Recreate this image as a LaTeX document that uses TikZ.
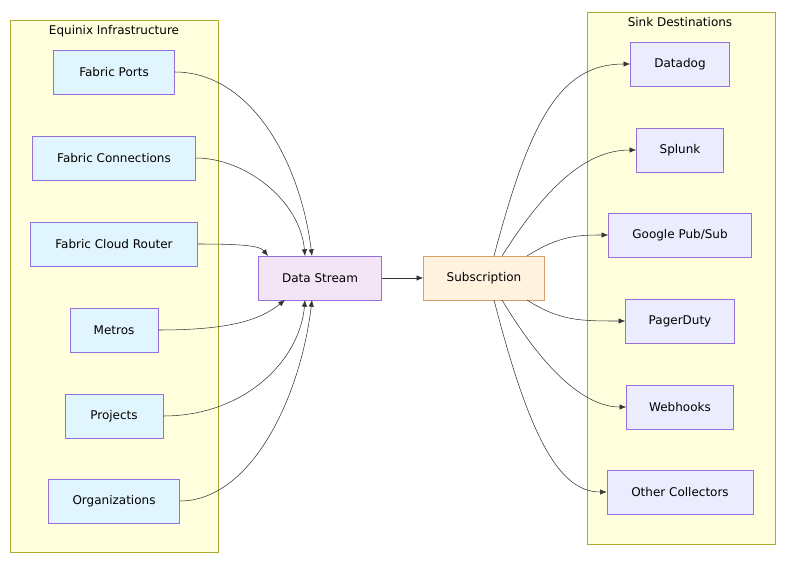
\documentclass[tikz,border=0pt]{standalone}
\usepackage{fontspec}
\setmainfont{DejaVu Sans}
\usetikzlibrary{arrows.meta}
\definecolor{srcfill}{HTML}{E1F5FE}
\definecolor{boxline}{HTML}{9370DB}
\definecolor{sinkfill}{HTML}{ECECFF}
\definecolor{dsfill}{HTML}{F3E5F5}
\definecolor{subfill}{HTML}{FFF3E0}
\definecolor{subline}{HTML}{D9A066}
\definecolor{grpfill}{HTML}{FFFFDE}
\definecolor{grpline}{HTML}{AAAA33}
\tikzset{
  box/.style={draw=boxline, minimum height=44*0.75pt, inner sep=0pt, font=\fontsize{9}{11}\selectfont},
  src/.style={box, fill=srcfill},
  sink/.style={box, fill=sinkfill},
  grp/.style={draw=grpline, fill=grpfill},
  flow/.style={draw=black!80, thin, -{Latex[length=5pt,width=4pt]}},
}
\begin{document}
\begin{tikzpicture}[x=0.75pt,y=-0.75pt]
    \useasboundingbox (0,0) rectangle (796,563);
    % groups
    \draw[grp] (10,20) rectangle (218,552);
    \node[font=\fontsize{9}{11}\selectfont] (srcttl) at (114,31) {Equinix Infrastructure};
    \draw[grp] (587,12) rectangle (775,544);
    \node[font=\fontsize{9}{11}\selectfont] (sinkttl) at (680,22) {Sink Destinations};
    % sources
    \node[src, minimum width=121*0.75pt] (ports) at (114,72) {Fabric Ports};
    \node[src, minimum width=163*0.75pt] (conns) at (114,158) {Fabric Connections};
    \node[src, minimum width=167*0.75pt] (fcr) at (114,244) {Fabric Cloud Router};
    \node[src, minimum width=88*0.75pt] (metros) at (114,330) {Metros};
    \node[src, minimum width=98*0.75pt] (projects) at (114,416) {Projects};
    \node[src, minimum width=131*0.75pt] (orgs) at (114,501) {Organizations};
    % middle
    \node[box, fill=dsfill, minimum width=123*0.75pt] (stream) at (320,278) {Data Stream};
    \node[box, draw=subline, fill=subfill, minimum width=121*0.75pt] (sub) at (484,278) {Subscription};
    % sinks
    \node[sink, minimum width=99*0.75pt] (datadog) at (680,64) {Datadog};
    \node[sink, minimum width=87*0.75pt] (splunk) at (680,150) {Splunk};
    \node[sink, minimum width=143*0.75pt] (pubsub) at (680,235) {Google Pub/Sub};
    \node[sink, minimum width=109*0.75pt] (pager) at (680,321) {PagerDuty};
    \node[sink, minimum width=107*0.75pt] (hooks) at (680,407) {Webhooks};
    \node[sink, minimum width=146*0.75pt] (other) at (680,492) {Other Collectors};
    % edges in
    \coordinate (n1) at (312,256); \coordinate (n2) at (305,256); \coordinate (n3) at (268,256);
    \coordinate (s1) at (285,300); \coordinate (s2) at (305,300); \coordinate (s3) at (312,300);
    \draw[flow] (ports.east) .. controls (250,72) and (300,160) .. (n1);
    \draw[flow] (conns.east) .. controls (245,158) and (300,200) .. (n2);
    \draw[flow] (fcr.east) .. controls (245,244) and (260,246) .. (n3);
    \draw[flow] (metros.east) .. controls (230,330) and (260,320) .. (s1);
    \draw[flow] (projects.east) .. controls (245,416) and (300,360) .. (s2);
    \draw[flow] (orgs.east) .. controls (250,501) and (300,400) .. (s3);
    \draw[flow] (stream) -- (sub);
    % edges out
    \draw[flow] (494,256) .. controls (530,120) and (560,64) .. (datadog.west);
    \draw[flow] (502,256) .. controls (550,180) and (590,150) .. (splunk.west);
    \draw[flow] (527,256) .. controls (560,235) and (580,235) .. (pubsub.west);
    \draw[flow] (527,300) .. controls (560,321) and (580,321) .. (pager.west);
    \draw[flow] (502,300) .. controls (550,380) and (590,407) .. (hooks.west);
    \draw[flow] (494,300) .. controls (530,440) and (560,492) .. (other.west);
\end{tikzpicture}
\end{document}
